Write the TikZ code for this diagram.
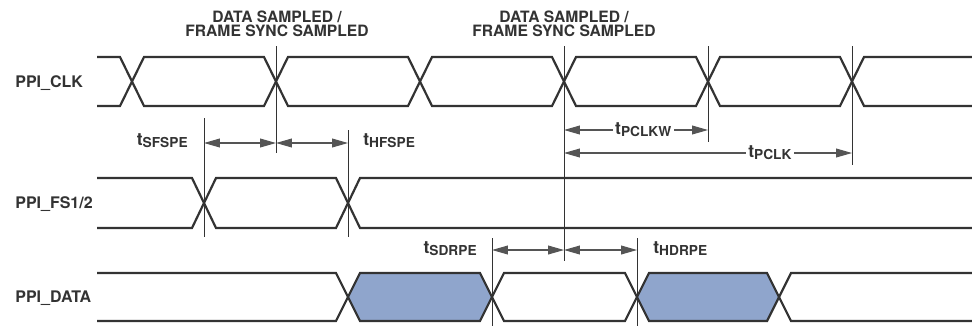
\documentclass[tikz,border=0pt]{standalone}
\usepackage{fontspec}
\setmainfont{TeX Gyre Heros}
\usetikzlibrary{arrows.meta}
\definecolor{sig}{HTML}{333333}
\definecolor{busfill}{HTML}{8FA5CC}
\definecolor{dimgray}{HTML}{555555}
\newcommand{\tname}[1]{{\fontsize{10}{11}\selectfont t}\raisebox{-1.2pt}{\fontsize{7.8}{8}\selectfont #1}}

\begin{document}
\begin{tikzpicture}[x=0.02cm,y=-0.02cm,
  wave/.style={sig,line width=1.25pt,line join=miter},
  marker/.style={sig,line width=0.45pt},
  dim/.style={dimgray,line width=0.6pt,{Triangle[length=9pt,width=5pt]}-{Triangle[length=9pt,width=5pt]}},
  signame/.style={anchor=base west,font=\fontsize{9.1}{10}\selectfont\bfseries,text=sig,inner sep=0pt},
  note/.style={anchor=north,align=center,font=\fontsize{8.9}{7.94}\selectfont\bfseries,text=sig,inner sep=0pt},
  tlabel/.style={font=\bfseries,text=sig,inner sep=0pt}]
  \useasboundingbox (0,0) rectangle (972,326);
  % signal names
  \node[signame] (clk) at (15,87) {PPI\_CLK};
  \node[signame] (fs) at (15,208) {PPI\_FS1/2};
  \node[signame] (data) at (15,302) {PPI\_DATA};
  % sampling edges
  \node[note] (smpA) at (277,10.6) {DATA SAMPLED /\\FRAME SYNC SAMPLED};
  \node[note] (smpB) at (564,10.6) {DATA SAMPLED /\\FRAME SYNC SAMPLED};
  % PPI_CLK
  \draw[wave] (97,57) -- (120,57) -- (144,106) -- (264,106) -- (288,57) -- (408,57) -- (432,106) -- (552,106) -- (576,57) -- (696,57) -- (720,106) -- (840,106) -- (864,57) -- (972,57);
  \draw[wave] (97,106) -- (120,106) -- (144,57) -- (264,57) -- (288,106) -- (408,106) -- (432,57) -- (552,57) -- (576,106) -- (696,106) -- (720,57) -- (840,57) -- (864,106) -- (972,106);
  % PPI_FS1/2
  \draw[wave] (97,178) -- (192,178) -- (216,228) -- (336,228) -- (360,178) -- (972,178);
  \draw[wave] (97,228) -- (192,228) -- (216,178) -- (336,178) -- (360,228) -- (972,228);
  % PPI_DATA
  \fill[busfill] (348,297) -- (360,273) -- (480,273) -- (492,297) -- (480,321) -- (360,321) -- cycle;
  \fill[busfill] (637,297) -- (649,273) -- (767,273) -- (779,297) -- (767,321) -- (649,321) -- cycle;
  \draw[wave] (97,273) -- (336,273) -- (360,321) -- (480,321) -- (504,273) -- (625,273) -- (649,321) -- (767,321) -- (791,273) -- (972,273);
  \draw[wave] (97,321) -- (336,321) -- (360,273) -- (480,273) -- (504,321) -- (625,321) -- (649,273) -- (767,273) -- (791,321) -- (972,321);
  % reference lines
  \draw[marker] (276,46) -- (276,153);
  \draw[marker] (204,118) -- (204,237);
  \draw[marker] (348,130) -- (348,237);
  \draw[marker] (564,46) -- (564,261);
  \draw[marker] (708,46) -- (708,142);
  \draw[marker] (852,46) -- (852,165);
  \draw[marker] (492,238) -- (492,326);
  \draw[marker] (637,238) -- (637,326);
  % frame sync setup/hold
  \coordinate (sfsA) at (204,143);
  \coordinate (sfsB) at (276,143);
  \coordinate (hfsB) at (348,143);
  \draw[dim] (sfsA) -- (sfsB);
  \draw[dim] (sfsB) -- (hfsB);
  \node[tlabel,anchor=base east] (tsfspe) at (188,145) {\tname{SFSPE}};
  \node[tlabel,anchor=base west] (thfspe) at (363,145) {\tname{HFSPE}};
  % clock width and period
  \coordinate (pwA) at (564,130);
  \coordinate (pwB) at (708,130);
  \draw[dim] (pwA) -- (pwB) node[tlabel,fill=white,inner xsep=1.5pt,inner ysep=1pt,pos=0.55] (tpclkw) {\tname{PCLKW}};
  \coordinate (pcA) at (564,153);
  \coordinate (pcB) at (852,153);
  \draw[dim] (pcA) -- (pcB) node[tlabel,fill=white,inner xsep=1.5pt,inner ysep=1pt,pos=0.715] (tpclk) {\tname{PCLK}};
  % data setup/hold
  \coordinate (sdA) at (492,250);
  \coordinate (sdB) at (564,250);
  \coordinate (hdB) at (637,250);
  \draw[dim] (sdA) -- (sdB);
  \draw[dim] (sdB) -- (hdB);
  \node[tlabel,anchor=base east] (tsdrpe) at (477,253) {\tname{SDRPE}};
  \node[tlabel,anchor=base west] (thdrpe) at (653,253) {\tname{HDRPE}};
\end{tikzpicture}
\end{document}
